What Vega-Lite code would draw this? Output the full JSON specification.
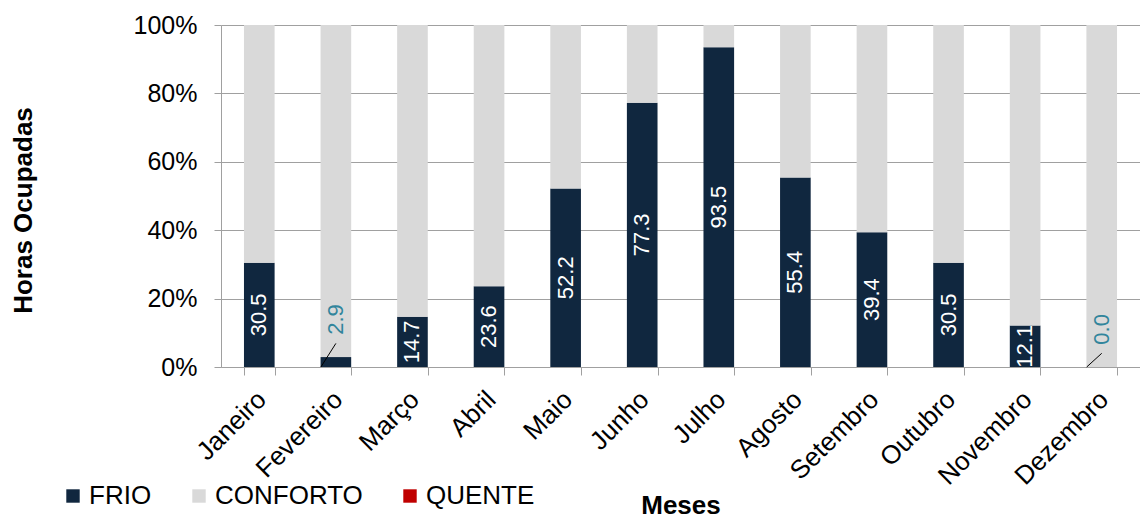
{
  "$schema": "https://vega.github.io/schema/vega-lite/v6.json",
  "width": 919,
  "height": 342,
  "autosize": {"type": "none"},
  "padding": {"left": 221, "top": 25, "right": 0, "bottom": 155},
  "background": "white",
  "config": {
    "font": "Liberation Sans",
    "view": {"stroke": null},
    "legend": {"padding": 0}
  },
  "data": {
    "values": [
      {"mes": "Janeiro", "categoria": "FRIO", "valor": 30.5},
      {"mes": "Janeiro", "categoria": "CONFORTO", "valor": 69.5},
      {"mes": "Janeiro", "categoria": "QUENTE", "valor": 0},
      {"mes": "Fevereiro", "categoria": "FRIO", "valor": 2.9},
      {"mes": "Fevereiro", "categoria": "CONFORTO", "valor": 97.1},
      {"mes": "Fevereiro", "categoria": "QUENTE", "valor": 0},
      {"mes": "Março", "categoria": "FRIO", "valor": 14.7},
      {"mes": "Março", "categoria": "CONFORTO", "valor": 85.3},
      {"mes": "Março", "categoria": "QUENTE", "valor": 0},
      {"mes": "Abril", "categoria": "FRIO", "valor": 23.6},
      {"mes": "Abril", "categoria": "CONFORTO", "valor": 76.4},
      {"mes": "Abril", "categoria": "QUENTE", "valor": 0},
      {"mes": "Maio", "categoria": "FRIO", "valor": 52.2},
      {"mes": "Maio", "categoria": "CONFORTO", "valor": 47.8},
      {"mes": "Maio", "categoria": "QUENTE", "valor": 0},
      {"mes": "Junho", "categoria": "FRIO", "valor": 77.3},
      {"mes": "Junho", "categoria": "CONFORTO", "valor": 22.7},
      {"mes": "Junho", "categoria": "QUENTE", "valor": 0},
      {"mes": "Julho", "categoria": "FRIO", "valor": 93.5},
      {"mes": "Julho", "categoria": "CONFORTO", "valor": 6.5},
      {"mes": "Julho", "categoria": "QUENTE", "valor": 0},
      {"mes": "Agosto", "categoria": "FRIO", "valor": 55.4},
      {"mes": "Agosto", "categoria": "CONFORTO", "valor": 44.6},
      {"mes": "Agosto", "categoria": "QUENTE", "valor": 0},
      {"mes": "Setembro", "categoria": "FRIO", "valor": 39.4},
      {"mes": "Setembro", "categoria": "CONFORTO", "valor": 60.6},
      {"mes": "Setembro", "categoria": "QUENTE", "valor": 0},
      {"mes": "Outubro", "categoria": "FRIO", "valor": 30.5},
      {"mes": "Outubro", "categoria": "CONFORTO", "valor": 69.5},
      {"mes": "Outubro", "categoria": "QUENTE", "valor": 0},
      {"mes": "Novembro", "categoria": "FRIO", "valor": 12.1},
      {"mes": "Novembro", "categoria": "CONFORTO", "valor": 87.9},
      {"mes": "Novembro", "categoria": "QUENTE", "valor": 0},
      {"mes": "Dezembro", "categoria": "FRIO", "valor": 0.0},
      {"mes": "Dezembro", "categoria": "CONFORTO", "valor": 100.0},
      {"mes": "Dezembro", "categoria": "QUENTE", "valor": 0}
    ]
  },
  "transform": [
    {"calculate": "indexof(['FRIO','CONFORTO','QUENTE'], datum.categoria)", "as": "ord"}
  ],
  "encoding": {
    "x": {
      "field": "mes",
      "type": "nominal",
      "sort": ["Janeiro", "Fevereiro", "Março", "Abril", "Maio", "Junho", "Julho", "Agosto", "Setembro", "Outubro", "Novembro", "Dezembro"],
      "scale": {"paddingInner": 0.6, "paddingOuter": 0.3},
      "axis": {
        "title": "Meses",
        "titleFontSize": 26,
        "titleFontWeight": "bold",
        "titleColor": "#000000",
        "titlePadding": 3,
        "labelAngle": -45,
        "labelFontSize": 26,
        "labelColor": "#000000",
        "labelPadding": 11,
        "labelOffset": -7,
        "domainColor": "#A0A0A0",
        "tickColor": "#A0A0A0",
        "tickSize": 8,
        "tickBand": "extent",
        "grid": false
      }
    }
  },
  "layer": [
    {
      "mark": {"type": "bar"},
      "encoding": {
        "y": {
          "field": "valor",
          "type": "quantitative",
          "stack": "zero",
          "scale": {"domain": [0, 100], "nice": false},
          "axis": {
            "title": "Horas Ocupadas",
            "titleFontSize": 26,
            "titleFontWeight": "bold",
            "titleColor": "#000000",
            "titlePadding": 97,
            "titleY": 185,
            "values": [0, 20, 40, 60, 80, 100],
            "labelExpr": "datum.value + '%'",
            "labelFontSize": 25,
            "labelColor": "#000000",
            "labelPadding": 17,
            "tickSize": 7,
            "tickColor": "#A0A0A0",
            "domainColor": "#A0A0A0",
            "gridColor": "#A0A0A0",
            "grid": true
          }
        },
        "order": {"field": "ord", "type": "quantitative", "sort": "ascending"},
        "color": {
          "field": "categoria",
          "type": "nominal",
          "scale": {"domain": ["FRIO", "CONFORTO", "QUENTE"], "range": ["#10273F", "#D9D9D9", "#C00000"]},
          "legend": {
            "title": null,
            "orient": "none",
            "direction": "horizontal",
            "legendX": -161,
            "legendY": 458,
            "symbolType": "square",
            "symbolSize": 180,
            "symbolStrokeWidth": 0,
            "labelFontSize": 26,
            "labelColor": "#000000",
            "labelOffset": 3,
            "columnPadding": 34
          }
        }
      }
    },
    {
      "transform": [
        {"filter": "datum.categoria === 'FRIO' && datum.valor >= 5"},
        {"calculate": "datum.valor / 2", "as": "meio"}
      ],
      "mark": {"type": "text", "angle": 270, "color": "#FFFFFF", "fontSize": 22, "align": "center", "baseline": "middle"},
      "encoding": {
        "y": {"field": "meio", "type": "quantitative"},
        "text": {"field": "valor", "type": "quantitative", "format": ".1f"}
      }
    },
    {
      "transform": [
        {"filter": "datum.categoria === 'FRIO' && datum.valor < 5"},
        {"calculate": "datum.valor + 11", "as": "rotulo"}
      ],
      "mark": {"type": "text", "angle": 270, "color": "#31859C", "fontSize": 22, "align": "center", "baseline": "middle"},
      "encoding": {
        "y": {"field": "rotulo", "type": "quantitative"},
        "text": {"field": "valor", "type": "quantitative", "format": ".1f"}
      }
    },
    {
      "transform": [
        {"filter": "datum.categoria === 'FRIO' && datum.valor < 5"},
        {"calculate": "datum.valor + 4", "as": "guia"},
        {"calculate": "0", "as": "base"}
      ],
      "mark": {"type": "rule", "color": "#000000", "strokeWidth": 1, "xOffset": -15},
      "encoding": {
        "y": {"field": "base", "type": "quantitative"},
        "y2": {"field": "guia"},
        "x2": {"field": "mes"}
      }
    }
  ]
}
